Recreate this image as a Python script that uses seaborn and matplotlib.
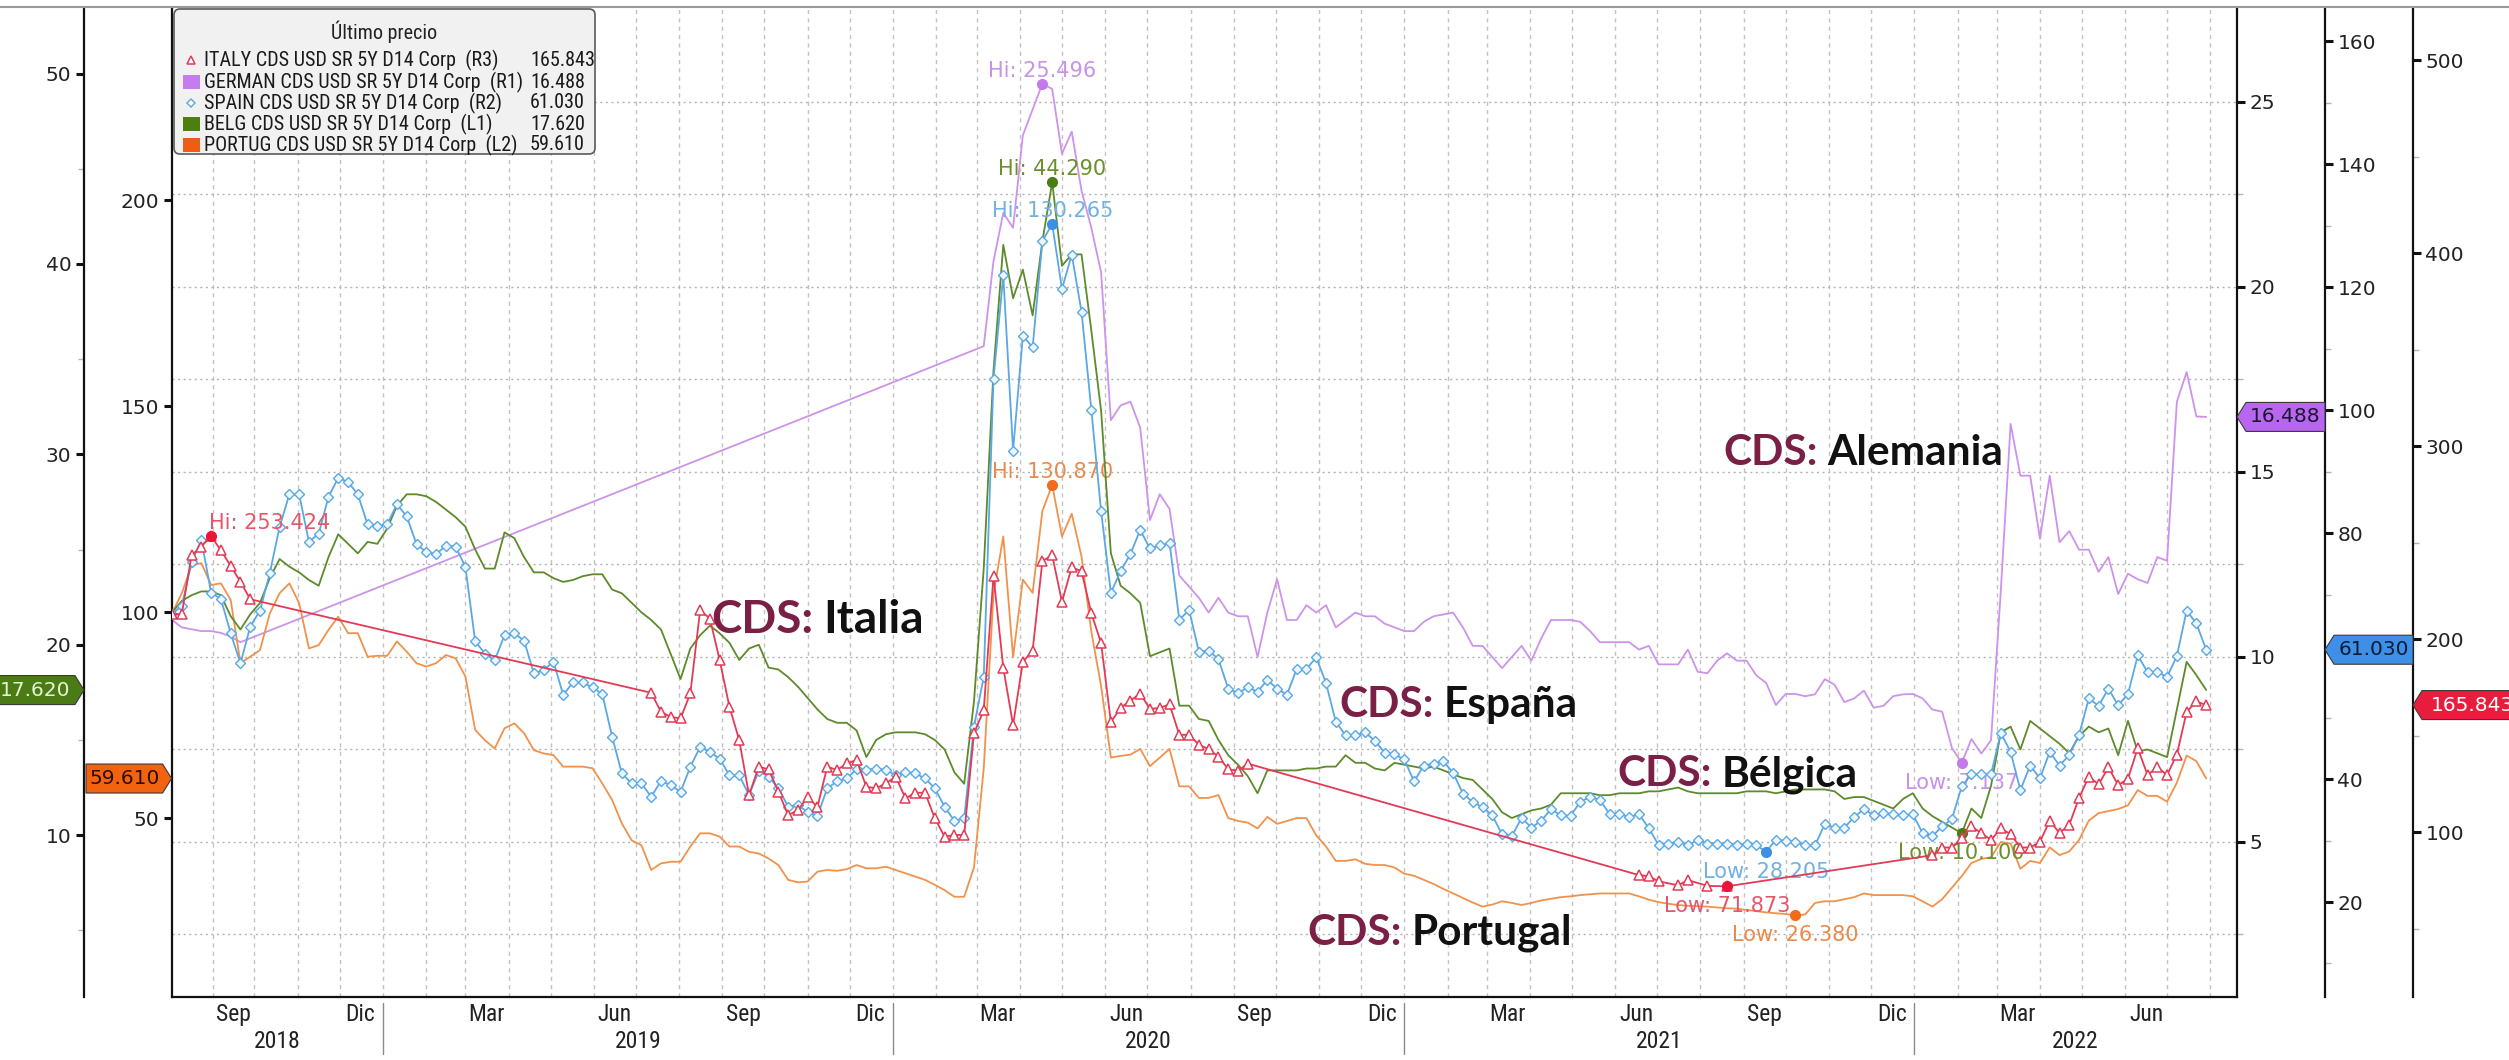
import os
import numpy as np
import pandas as pd
import matplotlib
matplotlib.use("Agg")
import matplotlib.pyplot as plt
import matplotlib.dates as mdates
import matplotlib.ticker as mticker
import matplotlib.transforms as mtransforms
from matplotlib.patches import Polygon, FancyBboxPatch, Rectangle
from matplotlib.lines import Line2D
from matplotlib import font_manager
from matplotlib.font_manager import FontProperties
import seaborn as sns

nan = np.nan

# semanas (viernes) desde ago-2018 hasta jul-2022
fechas = pd.date_range("2018-08-03", periods=209, freq="7D")

espana = [66.9, 68.1, 75.3, 78.9, 70.3, 69.3, 63.7, 58.8, 64.8, 67.4,
          73.5, 81.0, 86.3, 86.3, 78.6, 79.9, 85.9, 89.0, 88.3, 86.3,
          81.4, 81.1, 81.4, 84.7, 82.7, 78.2, 76.9, 76.6, 77.9, 77.8,
          74.5, 62.4, 60.4, 59.3, 63.4, 63.7, 62.5, 57.2, 57.7, 59.1,
          53.7, 55.7, 55.7, 54.9, 53.8, 46.9, 40.9, 39.3, 39.3, 37.1,
          39.7, 39.0, 37.9, 42.0, 45.2, 44.4, 43.3, 40.6, 40.6, 37.4,
          41.3, 40.4, 38.5, 35.5, 35.8, 34.6, 34.0, 38.5, 39.6, 40.1,
          41.6, 41.5, 41.7, 41.5, 40.6, 41.2, 40.9, 40.1, 38.5, 35.5,
          33.2, 33.6, 48.5, 56.6,
          105.1, 121.9, 93.4, 112.1, 110.2, 127.5,
          130.265, 119.7, 125.3, 116.0, 100.1, 83.6, 70.3, 73.8, 76.6, 80.5,
          77.5, 78.0, 78.4, 65.9, 67.5, 60.7, 60.9, 59.5, 54.7, 54.0,
          54.9, 54.2, 56.1, 54.7, 53.7, 57.9, 57.9, 59.8, 55.6, 49.3,
          47.1, 47.1, 47.6, 46.2, 44.3, 44.0,
          43.2, 39.6, 42.2, 42.5, 42.9, 41.0, 37.6, 36.3, 35.4, 34.1,
          31.0, 30.7, 33.7, 32.1, 33.2, 35.1, 34.1, 34.0, 36.3, 37.1,
          36.6, 34.3, 34.3, 33.8, 34.3, 32.0, 29.3, 29.5, 29.8, 29.2,
          30.1, 29.5, 29.5, 29.5, 29.3, 29.5, 29.2, 28.205, 30.1, 30.0, 29.8,
          29.2, 29.2, 32.7, 32.1, 32.1, 33.8, 35.1, 34.1, 34.5, 34.3,
          34.1, 34.3, 31.2, 30.7, 32.3, 33.5, 38.8, 40.8, 40.8, 40.8,
          47.5, 44.4, 38.2, 42.2, 40.1, 44.4, 42.2, 43.9, 47.2, 53.1,
          51.9, 54.7, 52.0, 53.8, 60.1, 57.4, 57.4, 56.6, 60.0, 67.4,
          65.3, 61.03]

belgica = [21.7, 22.3, 22.6, 22.8, 22.8, 22.6, 21.5, 20.8, 21.6, 22.2,
           23.5, 24.5, 24.1, 23.8, 23.4, 23.1, 24.6, 25.8, 25.3, 24.8,
           25.4, 25.3, 26.1, 27.3, 27.9, 27.9, 27.8, 27.5, 27.1, 26.7,
           26.2, 25.0, 24.0, 24.0, 25.9, 25.6, 24.6, 23.8, 23.8, 23.5,
           23.3, 23.4, 23.6, 23.7, 23.7, 22.9, 22.7, 22.2, 21.7, 21.3,
           20.8, 19.5, 18.2, 19.8, 20.5, 21.0, 20.6, 20.1, 19.2, 19.8,
           20.0, 18.8, 18.7, 18.3, 17.8, 17.2, 16.6, 16.1, 15.9, 15.9,
           15.5, 14.1, 15.0, 15.3, 15.4, 15.4, 15.4, 15.3, 15.0, 14.5,
           13.3, 12.7, 17.0, 24.0,
           34.4, 41.0, 38.2, 39.7, 37.3, 41.2, 44.29, 39.9, 40.5, 40.5,
           36.5, 32.3, 24.8, 23.1, 22.7, 22.2, 19.4, 19.6, 19.8, 16.8,
           16.8, 16.1, 16.0, 15.0, 14.2, 13.7, 13.1, 12.2, 13.4, 13.4,
           13.4, 13.4, 13.5, 13.5, 13.6, 13.6, 14.2, 13.8, 13.8, 13.5,
           13.4, 13.8,
           13.7, 13.6, 13.5, 13.6, 13.4, 13.2, 13.0, 12.9, 12.4, 11.9,
           11.2, 10.9, 11.1, 11.3, 11.4, 11.6, 12.2, 12.2, 12.2, 12.2,
           12.1, 12.1, 12.2, 12.2, 12.2, 12.3, 12.3, 12.4, 12.5, 12.3,
           12.2, 12.2, 12.2, 12.2, 12.2, 12.3, 12.3, 12.3, 12.2, 12.3, 12.4,
           12.4, 12.4, 12.4, 12.3, 11.9, 12.0, 12.0, 11.8, 11.6, 11.4,
           11.9, 12.2, 11.4, 11.0, 10.7, 10.4, 10.1, 11.4, 10.9, 12.6,
           15.4, 15.7, 14.5, 16.0, 15.6, 15.2, 14.8, 14.3, 15.2, 15.7,
           15.4, 15.6, 14.2, 16.0, 14.4, 14.5, 14.3, 14.1, 16.6, 19.1,
           18.4, 17.62]

portugal = [99.7, 104.6, 111.4, 111.9, 106.6, 107.0, 103.0, 87.6, 89.2, 90.8,
            99.7, 104.6, 107.0, 102.2, 91.2, 92.0, 95.7, 98.9, 94.9, 94.9,
            89.2, 89.4, 89.4, 92.9, 90.4, 87.6, 86.8, 87.6, 89.6, 88.8,
            84.4, 71.4, 68.9, 66.9, 71.8, 73.0, 70.6, 66.5, 65.7, 65.3,
            62.5, 62.5, 62.5, 62.1, 58.4, 54.4, 48.7, 44.6, 43.4, 37.4,
            39.0, 39.4, 39.4, 43.1, 46.3, 46.3, 45.5, 43.1, 43.1, 41.8,
            41.4, 40.2, 38.6, 35.0, 34.4, 34.6, 37.0, 37.4, 37.2, 37.6,
            38.6, 37.8, 37.8, 38.2, 37.4, 36.6, 35.8, 35.0, 33.8, 32.5,
            30.9, 30.9, 38.0, 62.0,
            104.4, 118.4, 89.1, 107.9, 104.7, 124.6, 130.87, 118.4, 123.9, 113.5,
            95.3, 82.1, 64.7, 65.1, 65.4, 66.8, 62.6, 64.7, 66.8, 57.7,
            57.7, 54.9, 54.9, 55.6, 50.0, 49.3, 48.9, 47.5, 50.3, 48.6,
            49.3, 50.0, 50.0, 45.8, 43.1, 39.6, 39.6, 40.0, 38.9, 38.6,
            38.6, 38.0,
            36.5, 36.0, 35.0, 34.0, 32.8, 31.7, 30.6, 29.5, 28.5, 29.0,
            29.8, 29.4, 28.9, 29.4, 30.0, 30.4, 30.8, 31.0, 31.3, 31.5,
            31.7, 31.7, 31.7, 31.7, 31.0, 30.2, 29.6, 29.2, 28.9, 28.7,
            28.6, 28.5, 28.3, 28.1, 28.0, 27.7, 27.4, 27.1, 26.9, 26.7, 26.38,
            26.6, 29.4, 29.8, 29.8, 30.3, 30.8, 31.7, 31.3, 31.3, 31.3,
            31.3, 31.0, 29.8, 28.5, 30.3, 33.1, 35.9, 39.1, 40.1, 40.5,
            44.2, 43.8, 37.7, 39.6, 39.1, 42.9, 41.0, 41.9, 44.7, 49.4,
            51.2, 51.7, 52.2, 53.1, 56.8, 55.4, 55.4, 54.0, 58.6, 65.2,
            63.8, 59.61]

alemania = ([11.0, 10.8, 10.75, 10.7, 10.7, 10.65, 10.55, 10.4]
            + [nan] * 75
            + [18.4,
               20.7, 22.0, 21.6, 24.1, 24.8, 25.496, 25.35, 23.6, 24.2, 22.6,
               21.6, 20.4, 16.4, 16.8, 16.9, 16.2, 13.7, 14.4, 14.0, 12.2,
               11.9, 11.6, 11.2, 11.6, 11.2, 11.1, 11.1, 10.0, 11.2, 12.1,
               11.0, 11.0, 11.4, 11.2, 11.4, 10.8, 11.0, 11.2, 11.1, 11.1,
               10.9, 10.8,
               10.7, 10.7, 10.95, 11.1, 11.15, 11.2, 10.8, 10.3, 10.3, 10.0,
               9.7, 10.0, 10.3, 9.9, 10.5, 11.0, 11.0, 11.0, 10.95, 10.7,
               10.4, 10.4, 10.4, 10.4, 10.2, 10.3, 9.8, 9.8, 9.8, 10.2,
               9.6, 9.56, 9.9, 10.1, 9.9, 9.9, 9.5, 9.3, 8.7, 9.0, 9.0,
               8.94, 8.99, 9.4, 9.25, 8.78, 8.88, 9.09, 8.63, 8.68, 8.94,
               8.99, 9.0, 8.88, 8.58, 8.52, 7.54, 7.137, 7.78, 7.39, 7.75,
               11.8, 16.3, 14.9, 14.9, 13.2, 14.9, 13.1, 13.4, 12.9, 12.9,
               12.3, 12.7, 11.7, 12.25, 12.1, 12.0, 12.7, 12.6, 16.9, 17.7,
               16.5, 16.488])

italia = ([213.0, 213.0, 243.5, 248.0, 253.424, 246.0, 238.0, 229.7, 220.7]
          + [nan] * 40
          + [172.2, 162.3, 159.7, 158.9, 171.9, 215.0, 210.7, 189.1, 164.9, 147.7, 119.2, 133.9]
          + [132.5, 121.0, 108.8, 111.4, 118.0, 113.1, 133.9, 132.2, 135.6, 137.3,
             123.5, 122.7, 125.3, 128.7, 117.5, 120.4, 120.4, 107.1, 97.6, 98.5,
             98.5, 151.1, 163.2, 232.8]
          + [185.2, 155.5, 188.2, 194.1, 240.5, 243.5, 219.4, 237.3, 235.2, 213.5,
             198.0, 157.0, 164.4, 168.2, 171.8, 163.8, 164.4, 166.2, 150.4, 150.4,
             145.3, 143.0, 139.1, 132.6, 131.7, 135.5]
          + [nan] * 39
          + [77.7, 77.1, 74.5, nan, 72.4, 75.1, nan, 72.1, nan, 71.873]
          + [nan] * 20
          + [88.0, 92.0, 92.0, 96.9, 102.9, 99.5, 95.9, 101.9, 98.9, 92.0,
             92.0, 94.9, 105.9, 99.5, 103.8, 117.7, 128.7, 124.7, 133.6, 124.3,
             127.7, 143.5, 129.6, 133.6, 129.6, 140.2, 162.3, 167.7, 165.843])

nombres_leyenda = ["ITALY CDS USD SR 5Y D14 Corp  (R3)",
                   "GERMAN CDS USD SR 5Y D14 Corp  (R1)",
                   "SPAIN CDS USD SR 5Y D14 Corp  (R2)",
                   "BELG CDS USD SR 5Y D14 Corp  (L1)",
                   "PORTUG CDS USD SR 5Y D14 Corp  (L2)"]
paises = ["Italia", "España", "Alemania", "Bélgica", "Portugal"]

df = pd.DataFrame({"fecha": fechas, "italia": italia, "alemania": alemania,
                   "espana": espana, "belgica": belgica, "portugal": portugal})

sns.set_style("white")
plt.rcParams["font.family"] = ["DejaVu Sans"]


# fuente estrecha (estilo Bloomberg) si hay alguna instalada
def buscar_estrecha():
    archivos = [f.fname for f in font_manager.fontManager.ttflist]
    for clave in ("liberationsansnarrow-regular", "robotocondensed-regular",
                  "opensans_condensed", "opensans-condensed"):
        for f in archivos:
            base = os.path.basename(f).lower()
            if clave in base and "bold" not in base and "italic" not in base:
                return f
    return None


ruta = buscar_estrecha()
if ruta:
    fp_base = dict(fname=ruta)
    t_leyenda, t_mes = 14.5, 17
else:
    fp_base = dict(family="Liberation Sans")
    t_leyenda, t_mes = 12, 16.5
fp_leyenda = FontProperties(size=t_leyenda, **fp_base)
fp_mes = FontProperties(size=t_mes, **fp_base)

W, H = 2509, 1060
fig = plt.figure(figsize=(W / 100, H / 100), dpi=100)
fig.patch.set_facecolor("white")
izq, der, abajo, arriba = 171.6, 2237.0, 997.0, 8.0
ax = fig.add_axes([izq / W, 1 - abajo / H, (der - izq) / W, (abajo - arriba) / H])
axP = ax.twinx()
axB = ax.twinx()
axS = ax.twinx()
axI = ax.twinx()

c_ita, c_ale, c_esp, c_bel, c_por = "#e33a55", "#cd93ea", "#5aa8e4", "#5d8a2b", "#f0924b"

sns.lineplot(data=df.dropna(subset=["alemania"]), x="fecha", y="alemania", ax=ax,
             color=c_ale, linewidth=1.3, estimator=None, errorbar=None, legend=False)
sns.lineplot(data=df, x="fecha", y="portugal", ax=axP, color=c_por, linewidth=1.3,
             estimator=None, errorbar=None, legend=False)
sns.lineplot(data=df, x="fecha", y="belgica", ax=axB, color=c_bel, linewidth=1.3,
             estimator=None, errorbar=None, legend=False)
sns.lineplot(data=df, x="fecha", y="espana", ax=axS, color=c_esp, linewidth=1.3,
             marker="D", markersize=5, markerfacecolor="#eef6fd", markeredgecolor=c_esp,
             markeredgewidth=1.0, estimator=None, errorbar=None, legend=False)
sns.lineplot(data=df.dropna(subset=["italia"]), x="fecha", y="italia", ax=axI,
             color=c_ita, linewidth=1.3, marker="^", markersize=7, markerfacecolor="white",
             markeredgecolor=c_ita, markeredgewidth=1.1, estimator=None, errorbar=None,
             legend=False)

x0 = pd.Timestamp("2018-08-02 17:00")
x1 = pd.Timestamp("2022-08-20 01:00")
ax.set_xlim(mdates.date2num(x0), mdates.date2num(x1))

ax.set_ylim(0.81, 27.54)
axP.set_ylim(6.56, 246.7)
axB.set_ylim(1.50, 53.44)
axS.set_ylim(4.55, 165.4)
axI.set_ylim(14.5, 527.2)

negro = "#111111"
for a in (ax, axP, axB, axS, axI):
    a.set_xlabel("")
    a.set_ylabel("")
    for s in a.spines.values():
        s.set_visible(False)
        s.set_linewidth(1.6)
        s.set_color(negro)

ax.spines["bottom"].set_visible(True)
ax.spines["right"].set_visible(True)
ax.yaxis.tick_right()
axP.spines["left"].set_visible(True)
axP.yaxis.tick_left()
axB.spines["left"].set_visible(True)
axB.spines["left"].set_position(("axes", -0.0424))
axB.yaxis.tick_left()
axS.spines["right"].set_visible(True)
axS.spines["right"].set_position(("axes", 1.0426))
axS.yaxis.tick_right()
axI.spines["right"].set_visible(True)
axI.spines["right"].set_position(("axes", 1.0852))
axI.yaxis.tick_right()

# el 60 del eje de España queda tapado por la etiqueta 61.030
ejes_y = [(ax, [5, 10, 15, 20, 25], [2.5, 7.5, 12.5, 17.5, 22.5]),
          (axP, [50, 100, 150, 200], []),
          (axB, [10, 20, 30, 40, 50], [5, 15, 25, 35, 45]),
          (axS, [20, 40, 80, 100, 120, 140, 160], [10, 30, 50, 70, 90, 110, 130, 150]),
          (axI, [100, 200, 300, 400, 500], [50, 150, 250, 350, 450])]
for a, may, men in ejes_y:
    a.yaxis.set_major_locator(mticker.FixedLocator(may))
    a.yaxis.set_minor_locator(mticker.FixedLocator(men))
    a.yaxis.set_major_formatter(mticker.FormatStrFormatter("%d"))
    a.tick_params(axis="y", which="major", direction="out", length=6, width=2.2,
                  color=negro, labelsize=14.5, labelcolor="#222222", pad=3)
    a.tick_params(axis="y", which="minor", direction="out", length=4, width=1,
                  color="#b5b5b5")

# rejilla
ax.grid(True, axis="y", which="both", linestyle=(0, (1.5, 2.5)), color="#b3b3b3", linewidth=1.0)
ax.xaxis.set_minor_locator(mdates.MonthLocator())
ax.grid(True, axis="x", which="minor", linestyle=(0, (3, 3)), color="#c2c2c2", linewidth=1.0)
ax.grid(False, axis="x", which="major")

meses_es = {3: "Mar", 6: "Jun", 9: "Sep", 12: "Dic"}
centros, etiquetas = [], []
for anio in range(2018, 2023):
    for m, nom in meses_es.items():
        t = pd.Timestamp(anio, m, 16)
        if x0 < t < x1:
            centros.append(mdates.date2num(t))
            etiquetas.append(nom)
ax.xaxis.set_major_locator(mticker.FixedLocator(centros))
ax.xaxis.set_major_formatter(mticker.FixedFormatter(etiquetas))
ax.tick_params(axis="x", which="major", length=0, pad=4, labelcolor="#222222")
for lab in ax.get_xticklabels():
    lab.set_fontproperties(fp_mes)
ax.tick_params(axis="x", which="minor", direction="out", length=6, width=1.3, color=negro)

mezcla = mtransforms.blended_transform_factory(ax.transData, ax.transAxes)
limites_anio = [x0] + [pd.Timestamp(a, 1, 1) for a in range(2019, 2023)] + [x1]
for k, anio in enumerate(range(2018, 2023)):
    c = (mdates.date2num(limites_anio[k]) + mdates.date2num(limites_anio[k + 1])) / 2
    ax.text(c, -0.045, str(anio), transform=mezcla, ha="center", va="center",
            fontproperties=fp_mes, color="#222222")
for a in range(2019, 2023):
    xs = mdates.date2num(pd.Timestamp(a, 1, 1))
    ax.add_line(Line2D([xs, xs], [-0.006, -0.058], transform=mezcla, color="#8a8a8a",
                       lw=1.0, clip_on=False))

# maximos y minimos
anotar = [(axI, italia, "#e4566c", "#e8173a", "left"),
          (ax, alemania, "#c792e8", "#c47be9", "center"),
          (axS, espana, "#6fb1e3", "#3c8fe3", "center"),
          (axB, belgica, "#6c8f2c", "#4a7d12", "center"),
          (axP, portugal, "#e88a4c", "#f26a1b", "center")]
for a, serie, ctxt, cpt, ha_hi in anotar:
    arr = np.array(serie, dtype=float)
    for tipo in ("Hi", "Low"):
        k = int(np.nanargmax(arr)) if tipo == "Hi" else int(np.nanargmin(arr))
        d = mdates.date2num(fechas[k])
        v = arr[k]
        a.plot([d], [v], "o", ms=7, color=cpt, zorder=6)
        if tipo == "Hi":
            a.annotate(f"Hi: {v:.3f}", xy=(d, v), xytext=(-2 if ha_hi == "left" else 0, 7),
                       textcoords="offset pixels", ha=ha_hi, va="baseline",
                       fontsize=15, color=ctxt, zorder=7)
        else:
            a.annotate(f"Low: {v:.3f}", xy=(d, v), xytext=(0, -10),
                       textcoords="offset pixels", ha="center", va="top",
                       fontsize=15, color=ctxt, zorder=7)

# linea gris superior
fig.add_artist(Line2D([0, 1], [1 - 7 / H, 1 - 7 / H], transform=fig.transFigure,
                      color="#9a9a9a", lw=1.5))


# etiquetas del ultimo precio
def etiqueta(eje, valor, x_punta, x_fin, fondo, color_txt):
    yb = eje.transData.transform((mdates.date2num(fechas[-1]), valor))[1] / 100.0
    h = 0.145
    punta = 0.09
    xp, xf = x_punta / 100.0, x_fin / 100.0
    cuerpo = xp + punta if xf > xp else xp - punta
    pts = [(xp, yb), (cuerpo, yb + h), (xf, yb + h), (xf, yb - h), (cuerpo, yb - h)]
    fig.add_artist(Polygon(pts, closed=True, transform=fig.dpi_scale_trans,
                           facecolor=fondo, edgecolor="#3a3a3a", lw=0.8, zorder=5))
    fig.text((cuerpo + xf) / 2, yb, f"{valor:.3f}", transform=fig.dpi_scale_trans,
             ha="center", va="center", fontsize=14.5, color=color_txt, zorder=6)


etiqueta(ax, alemania[-1], 2237, 2325, "#b866ef", "#1d1430")
etiqueta(axS, espana[-1], 2325, 2413, "#3d8fe8", "#0d1b33")
etiqueta(axI, italia[-1], 2413, 2522, "#e81d3d", "white")
etiqueta(axB, belgica[-1], 84, -4, "#4b7b14", "#e4f3d6")
etiqueta(axP, portugal[-1], 171.6, 86, "#f2620f", "#2a0e00")


# leyenda
def pulg(x, y):
    return x / 100.0, (H - y) / 100.0


caja = FancyBboxPatch(pulg(174, 154), 4.21, 1.45, boxstyle="round,pad=0,rounding_size=0.06",
                      transform=fig.dpi_scale_trans, facecolor="#f1f1f1",
                      edgecolor="#5a5a5a", lw=1.2, zorder=8)
fig.add_artist(caja)
fig.text(*pulg(384, 32), "Último precio", transform=fig.dpi_scale_trans, ha="center",
         va="center", fontproperties=fp_leyenda, color="#222222", zorder=9)
filas = [60, 82, 103, 124, 145]
valores_ult = [italia[-1], alemania[-1], espana[-1], belgica[-1], portugal[-1]]
estilos = [("tri", c_ita), ("sq", "#c57cee"), ("dia", "#6aaee0"), ("sq", "#4e7d12"), ("sq", "#f25c12")]
for y, nombre, val, (tipo, col) in zip(filas, nombres_leyenda, valores_ult, estilos):
    if tipo == "sq":
        fig.add_artist(Rectangle(pulg(183, y + 7), 0.17, 0.14, transform=fig.dpi_scale_trans,
                                 facecolor=col, edgecolor="none", zorder=9))
    else:
        mk = "^" if tipo == "tri" else "D"
        ms = 6 if tipo == "tri" else 4.5
        fig.add_artist(Line2D([1.91], [(H - y) / 100.0], transform=fig.dpi_scale_trans,
                              marker=mk, ms=ms, mfc="white", mec=col, mew=1.1,
                              linestyle="none", zorder=9))
    fig.text(*pulg(204, y), nombre, transform=fig.dpi_scale_trans, ha="left", va="center",
             fontproperties=fp_leyenda, color="#1a1a1a", zorder=9)
    fig.text(*pulg(530, y), f"{val:.3f}", transform=fig.dpi_scale_trans, ha="left",
             va="center", fontproperties=fp_leyenda, color="#1a1a1a", zorder=9)

# rotulos CDS
rotulos = [(711, 633), (1339, 717), (1723, 465), (1617, 786), (1307, 945)]
tamanos = [33, 30.5, 30.5, 30.5, 30.5]
render = fig.canvas.get_renderer()
for (xr, yr), pais, tam in zip(rotulos, paises, tamanos):
    t = fig.text(*pulg(xr, yr), "CDS:", transform=fig.dpi_scale_trans, ha="left",
                 va="baseline", fontsize=tam, family="Lato", weight="bold",
                 color="#7a1f45", zorder=9)
    bb = t.get_window_extent(renderer=render)
    fig.text(bb.x1 / 100.0 + 0.1, (H - yr) / 100.0, pais, transform=fig.dpi_scale_trans,
             ha="left", va="baseline", fontsize=tam, family="Lato", weight="bold",
             color="#111111", zorder=9)

fig.savefig("out.png", dpi=100, facecolor="white")
